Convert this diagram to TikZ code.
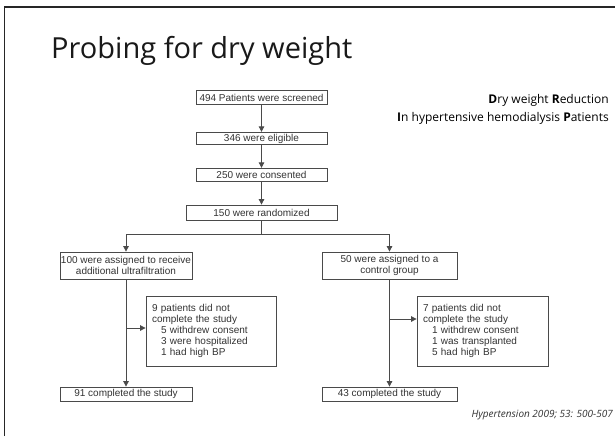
\documentclass[tikz,border=0pt]{standalone}
\usepackage{fontspec}
\setmainfont{Liberation Sans}
\newfontfamily\titlefont{Open Sans}
\usetikzlibrary{arrows.meta,positioning}
\definecolor{linec}{HTML}{4A4A4A}
\definecolor{textc}{HTML}{333333}
\tikzset{
  box/.style={draw=linec, line width=0.8pt, text=textc, font=\fontsize{10}{11}\selectfont, inner sep=0pt, align=center},
  note/.style={draw=linec, line width=0.8pt, text=textc, font=\fontsize{10}{11.2}\selectfont, inner xsep=6pt, inner ysep=0pt, align=left, text width=118pt, minimum height=70pt},
  conn/.style={draw=linec, line width=0.8pt},
  arr/.style={conn, -{Triangle[length=5.5pt,width=5.5pt]}},
}
\begin{document}
\begin{tikzpicture}[x=1pt,y=-1pt]
\useasboundingbox (0,0) rectangle (615,436);
\fill[white] (0,0) rectangle (615,436);
% frame
\draw[black!85, line width=1.6pt] (4.5,436) -- (4.5,7) -- (615,7);
% title
\node[anchor=base west, inner sep=0pt, font=\titlefont\fontsize{29}{32}\selectfont, text=black!90] (title) at (51,59) {Probing for dry weight};
% subtitle
\node[anchor=base east, inner sep=0pt, font=\titlefont\fontsize{12}{14}\selectfont, align=right] (sub1) at (609,103) {\textbf{D}ry weight \textbf{R}eduction};
\node[anchor=base east, inner sep=0pt, font=\titlefont\fontsize{12}{14}\selectfont, align=right] (sub2) at (609,121) {\textbf{I}n hypertensive hemodialysis \textbf{P}atients};
% boxes
\node[box, minimum width=131pt, minimum height=14pt] (a) at (261.5,97.5) {494 Patients were screened};
\node[box, minimum width=131pt, minimum height=12.5pt] (b) at (261.5,138.5) {346 were eligible};
\node[box, minimum width=131pt, minimum height=13.5pt] (c) at (261.5,175) {250 were consented};
\node[box, minimum width=151pt, minimum height=15pt] (d) at (261.5,212.5) {150 were randomized};
\node[box, minimum width=132pt, minimum height=27pt] (e) at (126,265.5) {100 were assigned to receive\\additional ultrafiltration};
\node[box, minimum width=135pt, minimum height=27pt] (f) at (389.5,265.5) {50 were assigned to a\\control group};
\node[note] (g) at (211,331) {9 patients did not\\complete the study\\\hspace*{9pt}5 withdrew consent\\\hspace*{9pt}3 were hospitalized\\\hspace*{9pt}1 had high BP};
\node[note, text width=119pt] (h) at (482.5,331) {7 patients did not\\complete the study\\\hspace*{9pt}1 withdrew consent\\\hspace*{9pt}1 was transplanted\\\hspace*{9pt}5 had high BP};
\node[box, minimum width=132pt, minimum height=14pt] (i) at (126,394) {91 completed the study};
\node[box, minimum width=135pt, minimum height=14pt] (j) at (389.5,394) {43 completed the study};
% citation
\node[anchor=base east, inner sep=0pt, font=\titlefont\itshape\fontsize{10}{12}\selectfont, text=textc] (cite) at (613,417) {Hypertension 2009; 53: 500-507};
% connectors
\draw[arr] (a) -- (b);
\draw[arr] (b) -- (c);
\draw[arr] (c) -- (d);
\coordinate (split) at (261.5,234);
\draw[conn] (d) -- (split);
\draw[arr] (split) -| (e.north);
\draw[arr] (split) -| (f.north);
\draw[arr] (e) -- (i);
\draw[arr] (f) -- (j);
\coordinate (gl) at (126,328);
\coordinate (hl) at (389.5,319);
\draw[arr] (gl) -- (g.west |- gl);
\draw[arr] (hl) -- (h.west |- hl);
\end{tikzpicture}
\end{document}
